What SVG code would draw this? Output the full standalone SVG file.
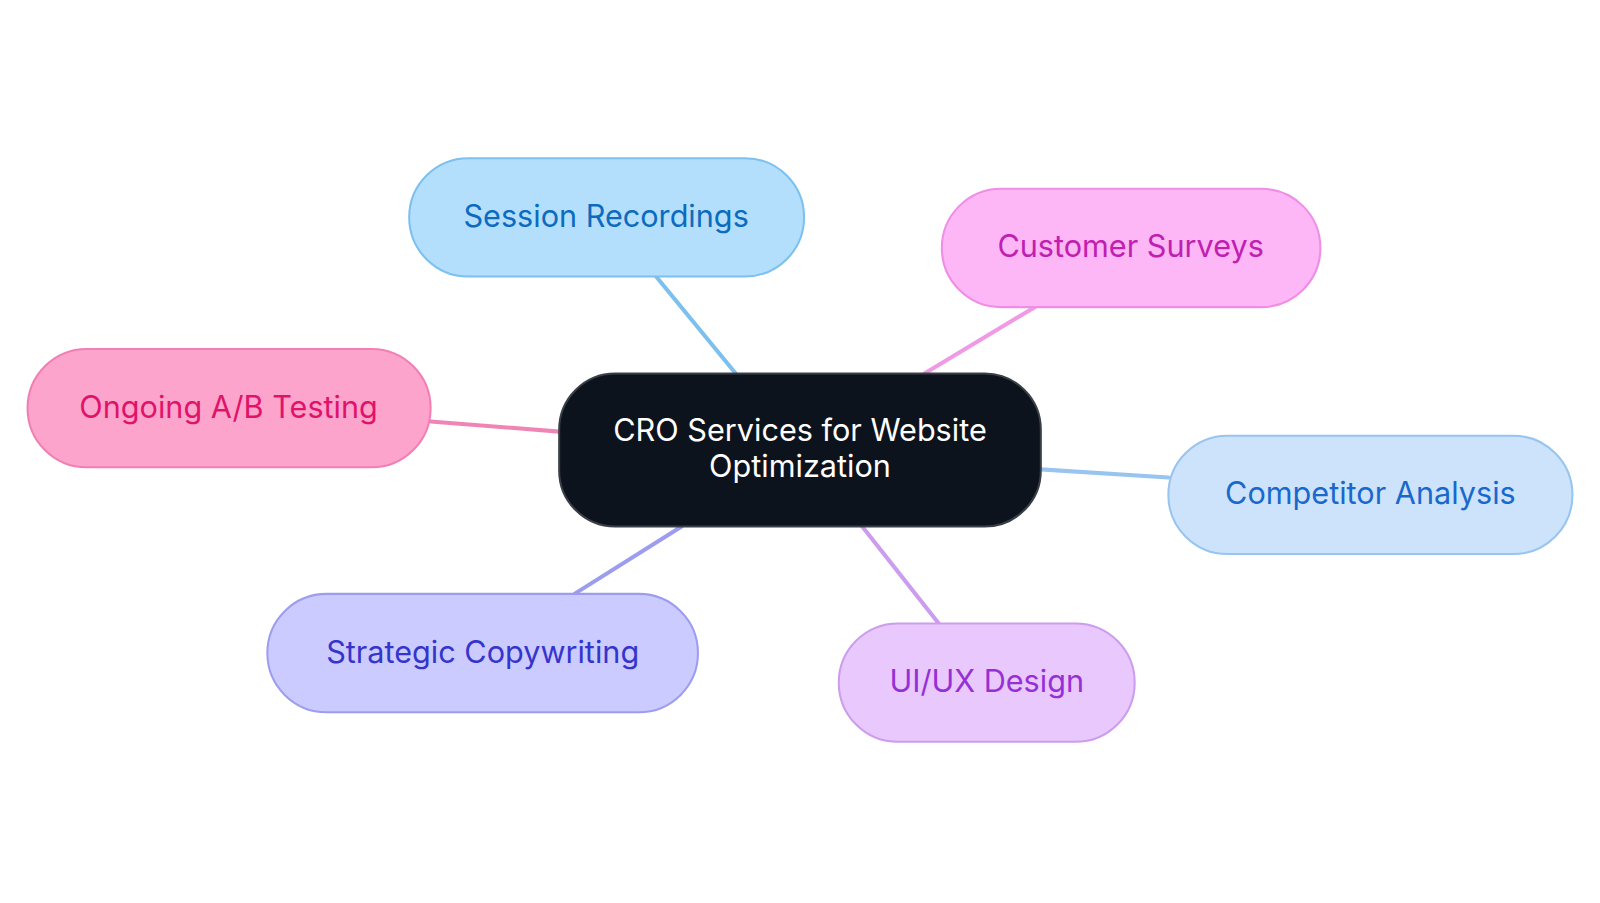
<svg xmlns="http://www.w3.org/2000/svg" width="1600" height="903" viewBox="0 0 1600 903">
<style>
text{font-family:Inter,"Noto Sans",sans-serif;font-size:30px;text-anchor:middle;dominant-baseline:central}
.n{stroke-width:2}
#edges line{stroke-width:4;stroke-linecap:round}
</style>
<rect width="1600" height="903" fill="#fff"/>
<g transform="scale(1.0204)">
<g id="edges">
<line x1="643" y1="271" x2="721" y2="366" stroke="#7cc0f0"/>
<line x1="1014" y1="301" x2="906" y2="366" stroke="#f09ae6"/>
<line x1="422" y1="413" x2="548" y2="423" stroke="#ee85b5"/>
<line x1="1020" y1="460" x2="1145" y2="468" stroke="#98c4f0"/>
<line x1="668" y1="516" x2="563" y2="582" stroke="#9d9df0"/>
<line x1="845" y1="516" x2="920" y2="611" stroke="#cc9cef"/>
</g>
<g id="center"><rect class="n" x="548" y="366" width="472" height="150" rx="55" fill="#0d131c" stroke="#3a3f47"/>
<text x="784" y="421" fill="#fff">CRO Services for Website</text><text x="784" y="456" fill="#fff">Optimization</text></g>
<g id="session"><rect class="n" x="401" y="155" width="387" height="116" rx="58" fill="#b3dffd" stroke="#7cc0f0"/><text x="594" y="211" fill="#0d6bbf">Session Recordings</text></g>
<g id="surveys"><rect class="n" x="923" y="185" width="371" height="116" rx="58" fill="#fdb6f6" stroke="#f08ee6"/><text x="1108" y="241" fill="#c020b0">Customer Surveys</text></g>
<g id="ab"><rect class="n" x="27" y="342" width="395" height="116" rx="58" fill="#fda4cc" stroke="#f27fb4"/><text x="224" y="398" fill="#e0136b">Ongoing A/B Testing</text></g>
<g id="competitor"><rect class="n" x="1145" y="427" width="396" height="116" rx="58" fill="#cde3fc" stroke="#98c4f0"/><text x="1343" y="483" fill="#1a68cc">Competitor Analysis</text></g>
<g id="copy"><rect class="n" x="262" y="582" width="422" height="116" rx="58" fill="#cbcbff" stroke="#9d9df0"/><text x="473" y="638" fill="#3535cc">Strategic Copywriting</text></g>
<g id="uiux"><rect class="n" x="822" y="611" width="290" height="116" rx="58" fill="#e8c8fd" stroke="#cc9cef"/><text x="967" y="667" fill="#9630d6">UI/UX Design</text></g>
</g>
</svg>
